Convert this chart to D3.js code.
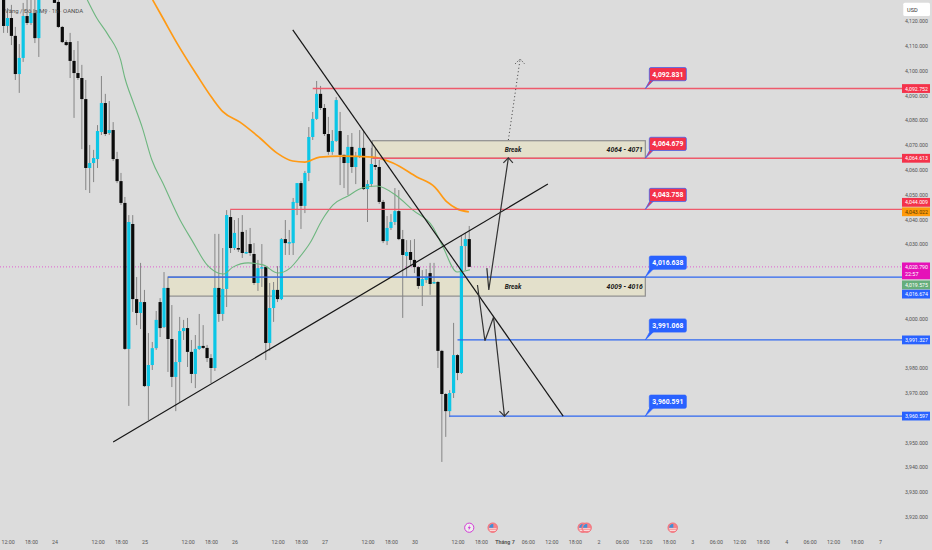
<!DOCTYPE html>
<html>
<head>
<meta charset="utf-8">
<script src="https://cdn.jsdelivr.net/npm/d3@7"></script>
<style>
  html, body { margin: 0; padding: 0; background: #dcdcdc; overflow: hidden; }
  svg { display: block; font-family: Roboto, "Noto Sans", sans-serif; }
</style>
</head>
<body>
<svg id="chart"></svg>
<script>
// hourly candles, one entry per bar, prices
const opens = [4132.5,4118.0,4121.2,4114.0,4098.6,4105.1,4122.0,4119.2,4123.2,4113.1,4131.7,4138.6,4135.7,4132.5,4127.7,4117.6,4111.5,4111.5,4103.9,4099.0,
  4097.0,4088.5,4060.7,4062.7,4064.3,4075.2,4086.9,4074.8,4076.0,4064.3,4055.4,4046.6,3987.7,4038.1,4007.8,4002.2,4006.6,3972.7,3981.2,3988.0,
  4006.6,3996.5,4012.3,3991.7,3976.4,3982.4,3994.9,3996.1,3986.5,3977.6,3987.7,3988.9,3988.1,3984.0,3980.0,4012.3,4001.8,4011.9,4040.9,4028.4,
  4028.4,4034.9,4026.4,4030.0,4026.0,4014.3,4020.3,4020.7,3990.1,4004.2,4011.5,4007.8,4032.0,4030.4,4030.4,4046.6,4054.6,4045.4,4058.7,4073.2,
  4080.5,4090.6,4084.9,4074.4,4067.2,4071.6,4075.6,4066.0,4062.7,4069.2,4061.1,4065.5,4068.8,4052.2,4054.2,4061.9,4061.1,4047.0,4031.2,4036.5,
  4038.9,4043.3,4032.0,4025.2,4026.8,4023.6,4020.7,4013.1,4015.5,4018.3,4014.3,4014.7,3986.9,3969.5,3962.6,3969.9,3985.2,3978.0,4029.2,4032.0]
const highs = [4134.5,4125.2,4126.5,4117.6,4110.7,4127.3,4129.3,4130.1,4129.3,4136.5,4142.6,4140.6,4137.3,4134.1,4130.5,4118.0,4112.3,4115.2,4108.3,4111.9,
  4102.3,4096.2,4070.0,4068.0,4078.0,4097.8,4090.6,4087.7,4079.2,4067.2,4058.7,4049.0,4041.7,4041.7,4016.7,4022.4,4011.5,3994.1,3990.5,4003.0,
  4008.2,4018.7,4012.3,4005.4,3991.3,4000.6,3999.4,4000.2,3991.3,3993.3,4001.8,3997.3,3989.3,3985.6,4034.1,4034.1,4028.4,4043.7,4043.7,4039.7,
  4040.5,4041.7,4035.7,4036.5,4030.4,4023.6,4030.0,4020.7,4014.3,4014.7,4021.1,4032.4,4039.7,4035.7,4048.6,4054.6,4055.4,4059.5,4077.2,4083.3,
  4095.8,4093.8,4086.5,4081.3,4076.0,4089.3,4083.3,4066.0,4074.0,4074.8,4067.2,4076.0,4075.6,4055.8,4068.8,4068.8,4063.9,4047.8,4041.3,4042.1,
  4052.6,4051.8,4035.7,4031.6,4031.6,4032.0,4021.1,4019.5,4019.9,4022.4,4022.4,4015.1,3987.3,3969.9,3971.1,3998.2,3985.6,4033.2,4034.5,4037.3]
const lows = [4115.2,4115.2,4110.3,4096.2,4091.0,4103.5,4118.4,4118.4,4111.1,4105.5,4132.5,4133.3,4130.9,4127.3,4117.2,4111.1,4109.9,4097.0,4080.9,4096.2,
  4068.3,4051.8,4050.6,4055.0,4060.7,4074.0,4073.6,4074.0,4063.5,4054.6,4045.8,3987.3,3964.7,4002.6,3997.3,3995.7,3972.3,3959.0,3979.2,3987.3,
  3992.5,3996.1,3978.4,3972.3,3962.6,3966.3,3991.3,3980.4,3973.9,3971.9,3987.3,3987.7,3982.4,3973.9,3978.8,3998.6,3999.0,4004.6,4026.4,4027.6,
  4026.8,4024.4,4026.0,4025.2,4013.5,4011.1,4012.7,3983.2,3986.9,3998.6,4006.6,4007.4,4025.6,4025.6,4025.6,4041.7,4036.1,4042.5,4055.4,4072.0,
  4080.1,4084.1,4073.6,4066.0,4066.0,4071.2,4053.8,4052.6,4049.8,4058.7,4054.2,4064.7,4051.8,4038.9,4053.0,4059.9,4046.2,4030.4,4029.6,4035.7,
  4037.7,4031.6,4000.2,4016.7,4021.1,4018.3,4011.9,4005.0,4014.3,4009.5,4013.9,3980.0,3942.1,3952.2,3960.2,3967.9,3975.1,3977.6,4019.5,4020.8]
const closes = [4118.0,4121.2,4114.0,4098.6,4105.1,4122.0,4119.2,4123.2,4113.1,4131.7,4138.6,4135.7,4132.5,4127.3,4117.6,4111.5,4110.3,4103.9,4099.0,4097.0,
  4088.5,4060.7,4062.7,4064.7,4075.6,4086.9,4074.4,4076.0,4064.3,4055.4,4046.6,3987.7,4038.9,4007.8,4002.2,4006.6,3972.7,3981.2,3988.0,3999.4,
  3996.1,4012.3,3991.7,3976.4,3982.4,3994.9,3996.1,3986.5,3977.6,3987.7,3988.9,3988.1,3984.0,3980.0,4012.3,4001.8,4011.9,4041.7,4028.4,4034.5,
  4028.0,4026.4,4026.8,4026.4,4014.3,4020.3,4020.7,3990.1,4004.2,4011.5,4007.8,4032.0,4030.4,4030.8,4047.0,4054.6,4045.4,4058.7,4073.2,4080.5,
  4090.6,4084.9,4074.4,4067.2,4071.6,4088.1,4066.0,4062.7,4069.2,4061.1,4065.5,4068.8,4052.2,4054.2,4062.3,4061.1,4047.0,4031.2,4036.5,4038.9,
  4043.3,4032.0,4025.6,4026.8,4023.6,4020.7,4013.1,4015.9,4016.7,4013.9,4014.7,3986.9,3969.5,3962.6,3969.9,3985.2,3978.0,4029.2,4032.0,4020.8]

// moving averages, sampled along the curves
const green_bars = [21.4,23.8,26.7,29.9,31.0,33.1,35.4,37.9,40.7,45.1,48.1,52.0,56.1,58.6,62.5,66.3,70.1,73.2,75.7,78.3,81.4,84.2,88.0,91.6,95.4,100.5,104.6,109.7,112.3,115.9,119.2]
const green_prices = [4128.5,4121.2,4114.4,4104.3,4097.0,4087.3,4077.2,4063.9,4054.6,4039.7,4031.6,4021.6,4017.9,4020.7,4022.4,4021.6,4018.3,4020.3,4024.8,4030.4,4039.7,4045.8,4049.4,4052.6,4053.4,4049.4,4043.7,4036.9,4028.8,4018.7,4019.6]
const orange_bars = [38.1,40.7,44.3,49.4,53.3,56.1,60.4,65.5,69.9,73.9,77.0,80.8,86.5,94.4,99.5,105.6,110.2,113.3,115.9,118.9]
const orange_prices = [4128.5,4121.2,4111.1,4098.2,4088.9,4083.3,4079.2,4072.8,4066.7,4063.5,4063.1,4065.1,4065.5,4065.1,4062.7,4057.1,4053.0,4047.0,4044.2,4043.0]

// horizontal levels
const level_prices = [4092.752,4064.613,4044.009,4016.674,3991.327,3960.597]
const level_starts = [79,94.4,57.9,42,116,113.9]
const level_colors = ["#ee5a6b","#ee5a6b","#ee5a6b","#2e67f0","#2e67f0","#2e67f0"]
const flag_labels = ["4,092.831","4,064.679","4,043.758","4,016.638","3,991.068","3,960.591"]
const flag_fills = ["#f4324a","#f4324a","#f4324a","#2962ff","#2962ff","#2962ff"]

// boxes
const zone_tops = [4071.7,4016.7]
const zone_bottoms = [4064.6,4009.0]
const zone_starts = [94.2,42]
const zone_end = 164
const zone_labels = ["4064 - 4071","4009 - 4016"]
const break_bar = 130.2

// drawn lines, [bar, price]
const falling_line = [[73.9,4116.4],[143,3960.6]]
const rising_line = [[28,3950.1],[139.1,4054.2]]
const up_arrow = [[123.5,4020.3],[124,4011.5],[129,4064.8]]
const down_arrow = [[121.1,4013.5],[123,3991],[125.2,4000.5],[128,3960.6]]
const dotted_arrow = [[129,4072],[132,4104.7]]

// axes, the levels covered by a price tag are left out
const price_ticks = [3920,3930,3940,3950,3970,3980,4000,4030,4040,4050,4060,4070,4080,4090,4100,4110,4120]
const time_ticks = [1,7,13,24,30,36,47,53,59,70,76,82,93,99,105,116,122,128,134,140,146,152,158,164,170,176,182,188,194,200,206,212,218,224]
const time_labels = ["12:00","18:00","24","12:00","18:00","25","12:00","18:00","26","12:00","18:00","27","12:00","18:00","30","12:00","18:00","Tháng 7",
  "06:00","12:00","18:00","2","06:00","12:00","18:00","3","06:00","12:00","18:00","4","06:00","12:00","18:00","7"]

// price tags on the scale
const tag_prices = [4092.752,4064.613,4044.009,4043.022,4020.79,4019.575,4016.674,3991.327,3960.597]
const tag_labels = ["4,092.752","4,064.613","4,044.009","4,043.022","4,020.790","4,019.575","4,016.674","3,991.327","3,960.597"]
const tag_colors = ["#f4324a","#f4324a","#f4324a","#ff9a0a","#e512b8","#66ae7c","#2962ff","#2962ff","#2962ff"]
const tag_nudge = [0,0,-7,0,0,15,17,0,0]

// calendar events under the candles
const event_bars = [119,125,148,149,171]
const event_kinds = ["bolt","us","us","us","us"]

const full_width = 932
const full_height = 550
const plot_right = 902
const up_color = "#0cc6e6"
const down_color = "#0b0b0b"

const svg = d3.select("#chart").attr("width", full_width).attr("height", full_height)
svg.append("rect").attr("width", full_width).attr("height", full_height).attr("fill", "#dcdcdc")

const x = d3.scaleLinear().domain([0, 224]).range([3.6, 880.1])
const y = d3.scaleLinear().domain([3920, 4120]).range([516.7, 21])
const line_xy = d3.line().x(d => x(d[0])).y(d => y(d[1]))

svg.append("defs").append("clipPath").attr("id", "plot-clip")
  .append("rect").attr("width", plot_right).attr("height", full_height)
const plot = svg.append("g").attr("clip-path", "url(#plot-clip)")

// current price line
plot.append("line")
  .attr("x1", 0).attr("x2", plot_right)
  .attr("y1", y(4020.79)).attr("y2", y(4020.79))
  .attr("stroke", "#e05fd0").attr("stroke-width", 1).attr("stroke-dasharray", "1 2")

// zones
zone_tops.forEach((top, i) => {
  plot.append("rect")
    .attr("x", x(zone_starts[i])).attr("width", x(zone_end) - x(zone_starts[i]))
    .attr("y", y(top)).attr("height", y(zone_bottoms[i]) - y(top))
    .attr("fill", "#e3e0cb").attr("stroke", "#8f8f8f").attr("stroke-width", 1.2)
})

// candles
const bars = d3.range(opens.length)
const candles = plot.append("g")
candles.selectAll("line").data(bars).enter().append("line")
  .attr("x1", i => x(i)).attr("x2", i => x(i))
  .attr("y1", i => y(highs[i])).attr("y2", i => y(lows[i]))
  .attr("stroke", "#858585").attr("stroke-width", 1)
candles.selectAll("rect").data(bars).enter().append("rect")
  .attr("x", i => x(i) - 1.6).attr("width", 3.2)
  .attr("y", i => y(Math.max(opens[i], closes[i])))
  .attr("height", i => Math.max(1.5, Math.abs(y(opens[i]) - y(closes[i]))))
  .attr("fill", i => closes[i] >= opens[i] ? up_color : down_color)

// moving averages
const smooth = d3.line().x(d => x(d[0])).y(d => y(d[1])).curve(d3.curveMonotoneX)
plot.append("path").attr("d", smooth(d3.zip(green_bars, green_prices)))
  .attr("fill", "none").attr("stroke", "#6db67f").attr("stroke-width", 1.1)
plot.append("path").attr("d", smooth(d3.zip(orange_bars, orange_prices)))
  .attr("fill", "none").attr("stroke", "#ff9a14").attr("stroke-width", 1.7)

// levels
level_prices.forEach((p, i) => {
  plot.append("line")
    .attr("x1", x(level_starts[i])).attr("x2", plot_right)
    .attr("y1", y(p)).attr("y2", y(p))
    .attr("stroke", level_colors[i]).attr("stroke-width", 1.4)
})

// trend lines
;[falling_line, rising_line].forEach(pts => {
  plot.append("path").attr("d", line_xy(pts))
    .attr("fill", "none").attr("stroke", "#161616").attr("stroke-width", 1.2)
})

function arrow_head(tip, dir) {
  // small open chevron at the end of a drawn arrow
  const tx = x(tip[0]), ty = y(tip[1])
  return `M${tx - 5},${ty - dir * 5} L${tx},${ty} L${tx + 4.5},${ty - dir * 5}`
}
;[[up_arrow, -1], [down_arrow, 1]].forEach(([pts, dir]) => {
  plot.append("path").attr("d", line_xy(pts))
    .attr("fill", "none").attr("stroke", "#333").attr("stroke-width", 1.2)
  plot.append("path").attr("d", arrow_head(pts[pts.length - 1], dir))
    .attr("fill", "none").attr("stroke", "#333").attr("stroke-width", 1.2)
})
plot.append("path").attr("d", line_xy(dotted_arrow))
  .attr("fill", "none").attr("stroke", "#3a3a3a").attr("stroke-width", 1).attr("stroke-dasharray", "1 2.6")
plot.append("path").attr("d", arrow_head(dotted_arrow[1], -1))
  .attr("fill", "none").attr("stroke", "#3a3a3a").attr("stroke-width", 1).attr("stroke-dasharray", "1 1.6")

// zone texts
zone_labels.forEach((label, i) => {
  const mid = (y(zone_tops[i]) + y(zone_bottoms[i])) / 2 + 2.2
  plot.append("text").attr("x", x(zone_end) - 2.5).attr("y", mid)
    .attr("text-anchor", "end").attr("font-size", 6.8).attr("font-weight", 700).attr("font-style", "italic")
    .attr("fill", "#1a1a1a").text(label)
  plot.append("text").attr("x", x(break_bar)).attr("y", mid)
    .attr("text-anchor", "middle").attr("font-size", 6.5).attr("font-weight", 700).attr("font-style", "italic")
    .attr("fill", "#1a1a1a").text("Break")
})

// callouts at the end of the zones
flag_labels.forEach((label, i) => {
  const ax = x(zone_end)
  const ay = y(level_prices[i])
  const g = plot.append("g")
  const box_top = ay - 21
  g.append("path")
    .attr("d", `M${ax},${ay} L${ax + 5},${box_top + 12} L${ax + 9},${box_top + 12} Z`)
    .attr("fill", flag_fills[i]).attr("stroke", "#2962ff").attr("stroke-width", 0.7)
  g.append("rect")
    .attr("x", ax + 4).attr("y", box_top).attr("width", 37).attr("height", 13.2).attr("rx", 1.5)
    .attr("fill", flag_fills[i]).attr("stroke", "#2962ff").attr("stroke-width", 0.7)
  g.append("text").attr("x", ax + 22.5).attr("y", box_top + 9)
    .attr("text-anchor", "middle").attr("font-size", 6.8).attr("font-weight", 700)
    .attr("fill", "#fff").text(label)
})

// symbol legend
svg.append("text").attr("x", 5).attr("y", 12.5).attr("font-size", 6).attr("fill", "#4c4c4c")
  .text("Vàng / Đô la Mỹ · 1h · OANDA")

// price axis
const y_axis = d3.axisRight(y).tickValues(price_ticks).tickSize(0).tickPadding(0)
  .tickFormat(d => d3.format(",.3f")(d))
const y_g = svg.append("g").attr("transform", "translate(905,0)").call(y_axis)
y_g.select(".domain").remove()
y_g.selectAll("text").attr("font-size", 5.6).attr("font-family", "Roboto").attr("fill", "#555")
  .attr("textLength", 23).attr("lengthAdjust", "spacingAndGlyphs")

// time axis
const x_axis = d3.axisBottom(x).tickValues(time_ticks).tickSize(0).tickPadding(0)
  .tickFormat((d, i) => time_labels[i])
const x_g = svg.append("g").attr("transform", "translate(0,540)").call(x_axis)
x_g.select(".domain").remove()
x_g.selectAll("text").attr("font-size", 5.3).attr("font-family", "Roboto").attr("fill", "#555")
  .attr("font-weight", (d, i) => time_labels[i] === "Tháng 7" ? 700 : 400)

// price tags
tag_prices.forEach((p, i) => {
  const mid = y(p) + tag_nudge[i]
  const is_now = tag_labels[i] === "4,020.790"
  const g = svg.append("g")
  g.append("rect").attr("x", 902).attr("y", mid - 4.4).attr("width", 28)
    .attr("height", is_now ? 16.8 : 8.8).attr("fill", tag_colors[i])
  g.append("text").attr("x", 905).attr("y", mid + 2).attr("font-size", 5.6)
    .attr("textLength", 23).attr("lengthAdjust", "spacingAndGlyphs")
    .attr("fill", tag_colors[i] === "#ff9a0a" ? "#5a3a00" : "#fff").text(tag_labels[i])
  if (is_now) {
    g.append("text").attr("x", 905).attr("y", mid + 9.6).attr("font-size", 5.4)
      .attr("fill", "#fff").text("22:57")
  }
})

// USD box
svg.append("rect").attr("x", 903.3).attr("y", 2.7).attr("width", 26.7).attr("height", 13.3).attr("rx", 1.5).attr("fill", "#fff")
svg.append("text").attr("x", 907).attr("y", 11.6).attr("font-size", 5.6).attr("fill", "#333").text("USD")

// event icons
event_bars.forEach((bar, i) => {
  const g = svg.append("g").attr("transform", `translate(${x(bar)},527.7)`)
  if (event_kinds[i] === "bolt") {
    g.append("circle").attr("r", 4.6).attr("fill", "#eee").attr("stroke", "#d33ad6").attr("stroke-width", 1)
    g.append("path").attr("d", "M0.8,-3 L-1.6,0.5 L-0.1,0.5 L-0.8,3 L1.6,-0.6 L0.1,-0.6 Z").attr("fill", "#d33ad6")
  } else {
    g.append("circle").attr("r", 4.8).attr("fill", "#f5838a").attr("stroke", "#f26a74").attr("stroke-width", 0.8)
    g.append("rect").attr("x", -3.8).attr("y", 0.6).attr("width", 7.6).attr("height", 1).attr("fill", "#fbe3e3")
    g.append("rect").attr("x", -3).attr("y", 2.4).attr("width", 6).attr("height", 0.9).attr("fill", "#fbe3e3")
    g.append("path").attr("d", "M-3.6,0 L-3,-2.2 L-1,-3.8 L0.6,-3.8 L0.6,0 Z").attr("fill", "#3f8fd6")
  }
})
</script>
</body>
</html>
